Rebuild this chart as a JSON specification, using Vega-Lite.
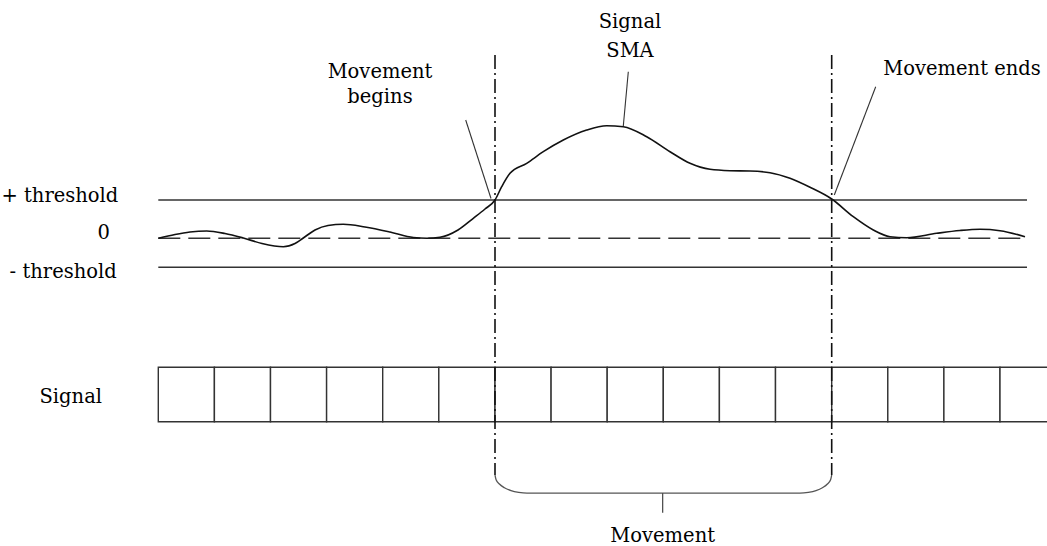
{
  "$schema": "https://vega.github.io/schema/vega-lite/v6.json",
  "width": 1047,
  "height": 546,
  "padding": 0,
  "autosize": {"type": "fit", "contains": "padding"},
  "background": "white",
  "config": {"view": {"stroke": null}, "font": "DejaVu Serif"},
  "datasets": {
    "hlines": [
      {"name": "+ threshold", "x1": 158.3, "x2": 1027, "y": 200},
      {"name": "- threshold", "x1": 158.3, "x2": 1027, "y": 267.3}
    ],
    "zero": [
      {"name": "0", "x1": 158.3, "x2": 1027, "y": 238.3}
    ],
    "vlines": [
      {"name": "begin", "x": 495, "y1": 55, "y2": 475},
      {"name": "end", "x": 831.7, "y1": 55, "y2": 475}
    ],
    "sma": [
      {"x": 158.3, "y": 238.3}, {"x": 175, "y": 234.5}, {"x": 190, "y": 232}, {"x": 206.7, "y": 231},
      {"x": 225, "y": 233.5}, {"x": 243.3, "y": 238}, {"x": 262, "y": 243.5}, {"x": 283.3, "y": 246.7},
      {"x": 295, "y": 243.5}, {"x": 303.3, "y": 238}, {"x": 315, "y": 230}, {"x": 328, "y": 225.5},
      {"x": 343.3, "y": 224.3}, {"x": 365, "y": 227}, {"x": 390, "y": 232}, {"x": 413.3, "y": 237.5},
      {"x": 426.7, "y": 238.3}, {"x": 440, "y": 237.3}, {"x": 458, "y": 230}, {"x": 473.3, "y": 218.3},
      {"x": 485, "y": 209}, {"x": 495, "y": 200}, {"x": 501.7, "y": 186.7}, {"x": 510, "y": 173.3},
      {"x": 526.7, "y": 163.3}, {"x": 543.3, "y": 151.7}, {"x": 563.3, "y": 140}, {"x": 586.7, "y": 130},
      {"x": 606.7, "y": 125.7}, {"x": 623.3, "y": 126.7}, {"x": 646.7, "y": 136.7}, {"x": 670, "y": 151.7},
      {"x": 690, "y": 163.3}, {"x": 710, "y": 169.3}, {"x": 730, "y": 170.7}, {"x": 750, "y": 171},
      {"x": 770, "y": 172.7}, {"x": 790, "y": 178.3}, {"x": 810, "y": 187.3}, {"x": 831.7, "y": 199},
      {"x": 853.3, "y": 216.7}, {"x": 873.3, "y": 230}, {"x": 890, "y": 236.7}, {"x": 906.7, "y": 237.7},
      {"x": 936.7, "y": 233.3}, {"x": 960, "y": 230.5}, {"x": 980, "y": 229.3}, {"x": 1000, "y": 230.7},
      {"x": 1025, "y": 236.7}
    ],
    "cells": [
      {"i": 1, "x1": 158.3, "x2": 214.4}, {"i": 2, "x1": 214.4, "x2": 270.5}, {"i": 3, "x1": 270.5, "x2": 326.6},
      {"i": 4, "x1": 326.6, "x2": 382.7}, {"i": 5, "x1": 382.7, "x2": 438.8}, {"i": 6, "x1": 438.8, "x2": 495},
      {"i": 7, "x1": 495, "x2": 551.1}, {"i": 8, "x1": 551.1, "x2": 607.2}, {"i": 9, "x1": 607.2, "x2": 663.3},
      {"i": 10, "x1": 663.3, "x2": 719.4}, {"i": 11, "x1": 719.4, "x2": 775.5}, {"i": 12, "x1": 775.5, "x2": 831.7},
      {"i": 13, "x1": 831.7, "x2": 887.8}, {"i": 14, "x1": 887.8, "x2": 943.9}, {"i": 15, "x1": 943.9, "x2": 1000},
      {"i": 16, "x1": 1000, "x2": 1056}
    ],
    "brace": [
      {"x": 495, "y": 475}, {"x": 496.1, "y": 479.7}, {"x": 499.4, "y": 484}, {"x": 504.4, "y": 487.7},
      {"x": 511, "y": 490.6}, {"x": 518.7, "y": 492.4}, {"x": 527, "y": 493.2}, {"x": 800, "y": 493.2},
      {"x": 808.3, "y": 492.4}, {"x": 816, "y": 490.6}, {"x": 822.4, "y": 487.7}, {"x": 827.4, "y": 484},
      {"x": 830.6, "y": 479.7}, {"x": 831.7, "y": 475}
    ],
    "leaders": [
      {"name": "Movement begins", "x1": 465.7, "y1": 120, "x2": 491, "y2": 198.5},
      {"name": "Signal SMA", "x1": 628.3, "y1": 71.7, "x2": 623.3, "y2": 126},
      {"name": "Movement ends", "x1": 875.7, "y1": 86.7, "x2": 834.3, "y2": 195},
      {"name": "Movement", "x1": 662.7, "y1": 493.2, "x2": 662.7, "y2": 512.7}
    ],
    "labelsLeft": [
      {"label": "Movement ends", "x": 883.3, "y": 75}
    ],
    "labelsRight": [
      {"label": "+ threshold", "x": 118.3, "y": 201.7},
      {"label": "0", "x": 110, "y": 239.3},
      {"label": "- threshold", "x": 116.7, "y": 278.3},
      {"label": "Signal", "x": 102, "y": 403.3}
    ],
    "labelsCenter": [
      {"label": "Movement", "x": 380, "y": 78.3},
      {"label": "begins", "x": 380, "y": 103.3},
      {"label": "Signal", "x": 630, "y": 28.3},
      {"label": "SMA", "x": 630, "y": 56.7},
      {"label": "Movement", "x": 662.7, "y": 541.7}
    ]
  },
  "layer": [
    {
      "data": {"name": "cells"},
      "mark": {"type": "rect", "fill": "white", "stroke": "#333333", "strokeWidth": 1.4, "clip": true},
      "encoding": {
        "x": {"field": "x1", "type": "quantitative", "scale": {"domain": [0, 1047], "nice": false, "zero": false}, "axis": null},
        "x2": {"field": "x2"},
        "y": {"datum": 367.3, "type": "quantitative", "scale": {"domain": [0, 546], "nice": false, "zero": false, "reverse": true}, "axis": null},
        "y2": {"datum": 421.7}
      }
    },
    {
      "data": {"name": "hlines"},
      "mark": {"type": "rule", "color": "#333333", "strokeWidth": 1.5},
      "encoding": {
        "x": {"field": "x1", "type": "quantitative"},
        "x2": {"field": "x2"},
        "y": {"field": "y", "type": "quantitative"}
      }
    },
    {
      "data": {"name": "zero"},
      "mark": {"type": "rule", "color": "#333333", "strokeWidth": 1.5, "strokeDash": [22, 8]},
      "encoding": {
        "x": {"field": "x1", "type": "quantitative"},
        "x2": {"field": "x2"},
        "y": {"field": "y", "type": "quantitative"}
      }
    },
    {
      "data": {"name": "vlines"},
      "mark": {"type": "rule", "color": "#111111", "strokeWidth": 1.6, "strokeDash": [14, 4, 2, 4]},
      "encoding": {
        "x": {"field": "x", "type": "quantitative"},
        "y": {"field": "y1", "type": "quantitative"},
        "y2": {"field": "y2"}
      }
    },
    {
      "data": {"name": "sma"},
      "mark": {"type": "line", "color": "#111111", "strokeWidth": 1.6, "interpolate": "monotone"},
      "encoding": {
        "x": {"field": "x", "type": "quantitative"},
        "y": {"field": "y", "type": "quantitative"}
      }
    },
    {
      "data": {"name": "brace"},
      "mark": {"type": "line", "color": "#555555", "strokeWidth": 1.3, "interpolate": "monotone"},
      "encoding": {
        "x": {"field": "x", "type": "quantitative"},
        "y": {"field": "y", "type": "quantitative"}
      }
    },
    {
      "data": {"name": "leaders"},
      "mark": {"type": "rule", "color": "#333333", "strokeWidth": 1.1},
      "encoding": {
        "x": {"field": "x1", "type": "quantitative"},
        "y": {"field": "y1", "type": "quantitative"},
        "x2": {"field": "x2"},
        "y2": {"field": "y2"}
      }
    },
    {
      "data": {"name": "labelsLeft"},
      "mark": {"type": "text", "fontSize": 19.5, "align": "left", "baseline": "alphabetic", "color": "#000000"},
      "encoding": {
        "x": {"field": "x", "type": "quantitative"},
        "y": {"field": "y", "type": "quantitative"},
        "text": {"field": "label"}
      }
    },
    {
      "data": {"name": "labelsRight"},
      "mark": {"type": "text", "fontSize": 19.5, "align": "right", "baseline": "alphabetic", "color": "#000000"},
      "encoding": {
        "x": {"field": "x", "type": "quantitative"},
        "y": {"field": "y", "type": "quantitative"},
        "text": {"field": "label"}
      }
    },
    {
      "data": {"name": "labelsCenter"},
      "mark": {"type": "text", "fontSize": 19.5, "align": "center", "baseline": "alphabetic", "color": "#000000"},
      "encoding": {
        "x": {"field": "x", "type": "quantitative"},
        "y": {"field": "y", "type": "quantitative"},
        "text": {"field": "label"}
      }
    }
  ]
}
